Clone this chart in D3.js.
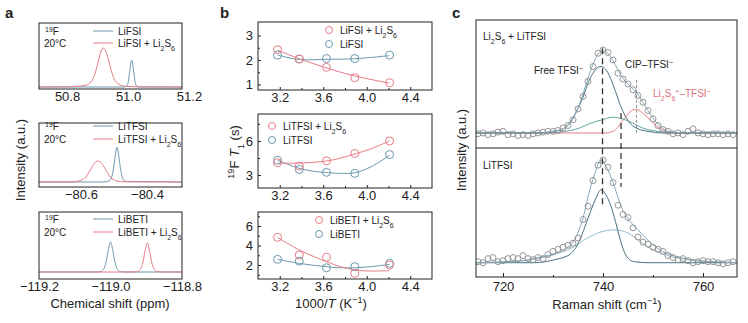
<!DOCTYPE html>
<html>
<head>
<meta charset="utf-8">
<title></title>
<style>
  body { margin: 0; background: #fff; }
  svg text { font-family: "Liberation Sans", Arial, sans-serif; fill: #222; }
  svg .frame { fill: none; stroke: #222; stroke-width: 1; }
  svg .blue { fill: none; stroke: #6a98ad; stroke-width: 1; }
  svg .red { fill: none; stroke: #e77b86; stroke-width: 1; }
  svg .pt-blue { fill: none; stroke: #6a98ad; stroke-width: 1; }
  svg .pt-red { fill: none; stroke: #e77b86; stroke-width: 1; }
  svg .raw { fill: none; stroke: #8c8c8c; stroke-width: 0.9; }
  svg .env { fill: none; stroke: #86a9ba; stroke-width: 1; }
  svg .free { fill: none; stroke: #46707f; stroke-width: 1; }
  svg .cip { fill: none; stroke: #67a59f; stroke-width: 1; }
  svg .broad { fill: none; stroke: #98bccb; stroke-width: 1; }
  svg .axis text { font-size: 13px; }
  svg .axis line { stroke: #222; }
</style>
</head>
<body>
<svg class="drawing"></svg>
<script src="https://cdn.jsdelivr.net/npm/d3@7"></script>
<script>
// ---- panel a : 19F NMR spectra (ppm, normalised intensity)
var fsiTicks = [50.8, 51.0, 51.2];
var fsiPure = [[50.708,0],[50.99,0],[50.998,0.05],[51.004,0.3],[51.008,0.56],[51.012,0.69],[51.016,0.56],[51.02,0.3],[51.026,0.05],[51.035,0],[51.177,0]];
var fsiMix = [[50.708,0],[50.80,0.005],[50.86,0.04],[50.88,0.15],[50.89,0.3],[50.90,0.58],[50.91,0.88],[50.918,1.0],[50.925,0.95],[50.935,0.72],[50.945,0.42],[50.955,0.2],[50.97,0.07],[50.99,0.02],[51.03,0.005],[51.177,0]];

var tfsiTicks = [-80.6, -80.4];
var tfsiPure = [[-80.727,0],[-80.53,0],[-80.515,0.03],[-80.505,0.2],[-80.5,0.48],[-80.495,0.82],[-80.491,1.0],[-80.487,0.85],[-80.482,0.5],[-80.477,0.22],[-80.47,0.05],[-80.46,0.01],[-80.294,0]];
var tfsiMix = [[-80.727,0],[-80.64,0],[-80.62,0.01],[-80.6,0.05],[-80.585,0.14],[-80.575,0.29],[-80.565,0.45],[-80.555,0.58],[-80.549,0.6],[-80.54,0.56],[-80.53,0.43],[-80.52,0.27],[-80.51,0.13],[-80.495,0.04],[-80.48,0.01],[-80.294,0]];

var betiTicks = [-119.2, -119.0, -118.8];
var betiPure = [[-119.2,0],[-119.04,0],[-119.03,0.01],[-119.02,0.08],[-119.012,0.35],[-119.006,0.75],[-119.0,1.0],[-118.994,0.75],[-118.988,0.35],[-118.98,0.08],[-118.97,0.01],[-118.96,0],[-118.8,0]];
var betiMix = [[-119.2,0],[-118.94,0],[-118.927,0.01],[-118.917,0.08],[-118.909,0.34],[-118.903,0.73],[-118.897,0.97],[-118.891,0.73],[-118.885,0.34],[-118.877,0.08],[-118.867,0.01],[-118.857,0],[-118.8,0]];

// ---- panel b : 19F T1 vs 1000/T
var invT = [3.18, 3.38, 3.63, 3.89, 4.21];
var invTTicks = [3.2, 3.6, 4.0, 4.4];
var t1FsiMix = [2.42, 2.04, 1.7, 1.28, 1.07];
var t1Fsi = [2.2, 2.04, 2.06, 2.06, 2.2];
var t1TfsiMix = [4.08, 3.79, 4.25, 4.9, 6.0];
var t1Tfsi = [4.3, 3.5, 3.24, 3.15, 4.8];
var t1BetiMix = [4.84, 3.03, 2.8, 1.15, 2.0];
var t1Beti = [2.58, 2.4, 1.72, 1.83, 2.17];
var fitFsiMix = [[3.18,2.4],[3.38,2.05],[3.6,1.72],[3.8,1.45],[4.0,1.24],[4.21,1.06]];
var fitFsi = [[3.18,2.2],[3.38,2.02],[3.63,2.03],[3.89,2.05],[4.21,2.18]];
var fitTfsiMix = [[3.18,4.05],[3.38,4.05],[3.55,4.15],[3.7,4.35],[3.89,4.85],[4.05,5.35],[4.21,6.0]];
var fitTfsi = [[3.18,4.3],[3.38,3.59],[3.5,3.35],[3.63,3.22],[3.75,3.15],[3.89,3.2],[4.04,3.73],[4.21,4.75]];
var fitBetiMix = [[3.18,4.84],[3.38,3.54],[3.63,2.34],[3.76,1.83],[3.89,1.49],[4.04,1.38],[4.21,1.42]];
var fitBeti = [[3.18,2.58],[3.38,2.17],[3.63,1.83],[3.76,1.72],[3.89,1.72],[4.04,1.83],[4.21,2.07]];

// ---- panel c : Raman spectra
var ramanTicks = [720, 740, 760];
var ramanMinor = [730, 750];
var ramanShift = [715,716,717,718,719,720,721,722,723,724,725,726,727,728,729,730,731,732,733,734,735,736,737,738,739,740,
                  741,742,743,744,745,746,747,748,749,750,751,752,753,754,755,756,757,758,759,760,761,762,763,764,765,766];
var ramanMix = [-0.01,0.00,-0.02,-0.01,0.01,0.02,-0.02,-0.01,-0.03,-0.02,-0.03,-0.01,0.00,0.01,0.02,0.02,0.03,0.06,0.09,0.16,0.29,0.44,0.62,0.80,0.96,1.00,
                0.97,0.88,0.72,0.65,0.59,0.52,0.45,0.37,0.27,0.17,0.09,0.04,0.02,-0.01,0.00,-0.02,0.02,0.05,0.00,-0.01,-0.02,-0.01,-0.01,-0.02,-0.01,-0.02];
var ramanPure = [0.01,0.00,0.04,0.05,0.01,0.02,0.04,0.05,0.04,0.07,0.04,0.03,0.05,0.04,0.08,0.11,0.13,0.15,0.17,0.19,0.24,0.42,0.55,0.80,0.95,1.00,
                 0.93,0.78,0.56,0.47,0.44,0.34,0.25,0.20,0.18,0.15,0.13,0.11,0.07,0.05,0.03,0.04,0.02,0.00,0.01,0.02,0.01,0.01,0.00,-0.01,0.00,0.01];
var mixEnvelope = [[714.6,0],[727,0],[730,0.02],[732,0.05],[733,0.09],[734,0.17],[735,0.30],[736,0.47],[737,0.66],[738,0.83],[739,0.95],[740,0.99],[741,0.96],[742,0.87],[743,0.76],[744,0.66],[745,0.59],[746,0.53],[747,0.46],[748,0.37],[749,0.27],[750,0.18],[751,0.10],[752,0.05],[754,0.01],[757,0],[766.8,0]];
var mixFree = [[714.6,0],[727,0],[730,0.02],[732,0.05],[733,0.1],[734,0.18],[735,0.30],[736,0.43],[737,0.6],[738,0.72],[739,0.79],[739.6,0.80],[740.5,0.77],[741.5,0.66],[742.5,0.5],[743.5,0.33],[744.5,0.2],[745.5,0.11],[747,0.05],[749,0.02],[752,0],[766.8,0]];
var mixCip = [[714.6,0],[728,0],[731,0.01],[733.6,0.03],[735.3,0.06],[737.2,0.11],[739.9,0.16],[741.9,0.19],[743.9,0.17],[745.9,0.12],[747.9,0.06],[749.8,0.03],[752.5,0.01],[756,0],[766.8,0]];
var mixPs = [[714.6,0],[740.5,0],[742,0.02],[743,0.07],[743.7,0.13],[744.7,0.21],[745.7,0.27],[746.5,0.285],[747.5,0.26],[748.7,0.2],[749.7,0.14],[750.7,0.08],[751.7,0.04],[752.7,0.015],[754,0],[766.8,0]];
var pureEnvelope = [[714.6,0],[722,0.01],[727,0.05],[730.3,0.09],[732.6,0.14],[734,0.2],[735.3,0.33],[736.2,0.47],[737,0.64],[738.3,0.86],[739.6,1.0],[741,0.9],[742.3,0.74],[743.6,0.55],[745,0.43],[747,0.32],[749.6,0.19],[751.5,0.12],[753.6,0.075],[757.6,0.03],[762.3,0.01],[766.8,0]];
var pureFree = [[714.6,0],[726,0],[728.5,0.01],[730.3,0.03],[732,0.05],[733.6,0.09],[734.6,0.15],[735.6,0.25],[736.6,0.38],[737.6,0.51],[738.6,0.63],[739.6,0.71],[740.6,0.66],[741.6,0.55],[742.5,0.4],[743.3,0.25],[744.3,0.1],[745.3,0.03],[746.3,0.01],[749,0],[766.8,0]];
var pureBroad = [[714.6,0],[720,0.01],[724,0.02],[727,0.04],[730.3,0.08],[733.6,0.14],[736.9,0.24],[739.6,0.30],[742.3,0.32],[745,0.29],[747.6,0.2],[750.3,0.12],[753.6,0.06],[757,0.03],[760.3,0.01],[766.8,0]];
var peakShifts = [739.9, 743.6, 746.7];

var svg = d3.select('.drawing').attr('width', 748).attr('height', 323);

function rich(sel, parts) {
    parts.forEach(function(p) {
        var t = sel.append('tspan').text(p[0]);
        if (p[1] === 'sub') t.attr('baseline-shift', 'sub').attr('font-size', '0.7em');
        if (p[1] === 'sup') t.attr('baseline-shift', 'super').attr('font-size', '0.7em');
        if (p[1] === 'i') t.attr('font-style', 'italic');
    });
    return sel;
}
function label(x, y, size, parts, fill) {
    return rich(svg.append('text').attr('x', x).attr('y', y).attr('font-size', size).style('fill', fill || '#222'), parts);
}
function vlabel(x, y, size, parts) {
    return rich(svg.append('text').attr('transform', 'translate(' + x + ',' + y + ') rotate(-90)')
        .attr('text-anchor', 'middle').attr('font-size', size), parts);
}
function clip(id, x0, y0, x1, y1) {
    svg.append('clipPath').attr('id', id).append('rect')
        .attr('x', x0).attr('y', y0).attr('width', x1 - x0).attr('height', y1 - y0);
}
function frame(x0, y0, x1, y1) {
    svg.append('rect').attr('class', 'frame').attr('x', x0).attr('y', y0).attr('width', x1 - x0).attr('height', y1 - y0);
}
function styleAxis(g) {
    g.attr('font-family', null).attr('font-size', null).attr('class', 'axis');
    g.select('.domain').remove();
}

// panel letters
label(5, 18, 15, [['a']]).attr('font-weight', 'bold');
label(220, 18, 15, [['b']]).attr('font-weight', 'bold');
label(452, 18, 15, [['c']]).attr('font-weight', 'bold');

// ================= panel a
var aL = 39, aR = 182;
var aPanels = [
    {id: 'a1', top: 23, bottom: 89, xdom: [50.708, 51.177], ydom: [-0.051, 1.641], ticks: fsiTicks, pure: fsiPure, mix: fsiMix, salt: 'LiFSI', rows: [35, 47]},
    {id: 'a2', top: 123, bottom: 187, xdom: [-80.727, -80.294], ydom: [-0.143, 1.686], ticks: tfsiTicks, pure: tfsiPure, mix: tfsiMix, salt: 'LiTFSI', rows: [130, 143]},
    {id: 'a3', top: 212, bottom: 279, xdom: [-119.2, -118.8], ydom: [-0.233, 2.0], ticks: betiTicks, pure: betiPure, mix: betiMix, salt: 'LiBETI', rows: [223, 236]}
];
aPanels.forEach(function(p) {
    var x = d3.scaleLinear().domain(p.xdom).range([aL, aR]);
    var y = d3.scaleLinear().domain(p.ydom).range([p.bottom, p.top]);
    var line = d3.line().x(d => x(d[0])).y(d => y(d[1])).curve(d3.curveMonotoneX);
    clip(p.id, aL, p.top, aR, p.bottom);
    var g = svg.append('g').attr('clip-path', 'url(#' + p.id + ')');
    g.append('path').attr('class', 'blue').attr('d', line(p.pure));
    g.append('path').attr('class', 'red').attr('d', line(p.mix));
    frame(aL, p.top, aR, p.bottom);
    svg.append('g').attr('transform', 'translate(0,' + p.bottom + ')')
        .call(d3.axisBottom(x).tickValues(p.ticks).tickSize(0).tickPadding(3).tickFormat(d3.format('.1f')))
        .call(styleAxis);
    label(45, p.rows[0], 10, [['19', 'sup'], ['F']]);
    label(44, p.rows[1], 10, [['20°C']]);
    svg.append('line').attr('class', 'blue').attr('x1', 93).attr('x2', 113).attr('y1', p.rows[0] - 4).attr('y2', p.rows[0] - 4);
    svg.append('line').attr('class', 'red').attr('x1', 93).attr('x2', 113).attr('y1', p.rows[1] - 4).attr('y2', p.rows[1] - 4);
    label(118, p.rows[0], 10, [[p.salt]]);
    label(118, p.rows[1], 10, [[p.salt + ' + Li'], ['2', 'sub'], ['S'], ['6', 'sub']]);
});
vlabel(25, 160, 13, [['Intensity (a.u.)']]);
label(110, 308, 13, [['Chemical shift (ppm)']]).attr('text-anchor', 'middle');

// ================= panel b
var bL = 258, bR = 432;
var bx = d3.scaleLinear().domain([3.0, 4.6]).range([bL, bR]);
var bPanels = [
    {id: 'b1', top: 22, bottom: 90, ydom: [0.776, 3.551], ticks: [1, 2, 3], minor: [1.5, 2.5], mix: t1FsiMix, pure: t1Fsi, fitMix: fitFsiMix, fitPure: fitFsi, salt: 'LiFSI', lx: 329, ly: [30, 44]},
    {id: 'b2', top: 114, bottom: 188, ydom: [1.86, 8.37], ticks: [3, 6], minor: [4.5, 7.5], mix: t1TfsiMix, pure: t1Tfsi, fitMix: fitTfsiMix, fitPure: fitTfsi, salt: 'LiTFSI', lx: 272, ly: [126, 140]},
    {id: 'b3', top: 212, bottom: 279, ydom: [0.564, 7.44], ticks: [2, 4, 6], minor: [1, 3, 5, 7], mix: t1BetiMix, pure: t1Beti, fitMix: fitBetiMix, fitPure: fitBeti, salt: 'LiBETI', lx: 319, ly: [220, 234]}
];
bPanels.forEach(function(p) {
    var y = d3.scaleLinear().domain(p.ydom).range([p.bottom, p.top]);
    var line = d3.line().x(d => bx(d[0])).y(d => y(d[1])).curve(d3.curveCatmullRom);
    svg.append('path').attr('class', 'blue').attr('d', line(p.fitPure));
    svg.append('path').attr('class', 'red').attr('d', line(p.fitMix));
    svg.append('g').selectAll('circle').data(p.pure).enter().append('circle')
        .attr('class', 'pt-blue').attr('cx', (d, i) => bx(invT[i])).attr('cy', d => y(d)).attr('r', 4);
    svg.append('g').selectAll('circle').data(p.mix).enter().append('circle')
        .attr('class', 'pt-red').attr('cx', (d, i) => bx(invT[i])).attr('cy', d => y(d)).attr('r', 4);
    frame(bL, p.top, bR, p.bottom);
    svg.append('g').attr('transform', 'translate(0,' + p.bottom + ')')
        .call(d3.axisBottom(bx).tickValues(invTTicks).tickSize(-3).tickPadding(3).tickFormat(d3.format('.1f')))
        .call(styleAxis);
    svg.append('g').attr('transform', 'translate(0,' + p.bottom + ')')
        .call(d3.axisBottom(bx).tickValues([3.4, 3.8, 4.2]).tickSize(-2).tickFormat(''))
        .call(styleAxis);
    svg.append('g').attr('transform', 'translate(' + bL + ',0)')
        .call(d3.axisLeft(y).tickValues(p.ticks).tickSize(-3).tickPadding(5).tickFormat(d3.format('d')))
        .call(styleAxis);
    svg.append('g').attr('transform', 'translate(' + bL + ',0)')
        .call(d3.axisLeft(y).tickValues(p.minor).tickSize(-2).tickFormat(''))
        .call(styleAxis);
    svg.append('circle').attr('class', 'pt-red').attr('cx', p.lx).attr('cy', p.ly[0]).attr('r', 3.5);
    svg.append('circle').attr('class', 'pt-blue').attr('cx', p.lx).attr('cy', p.ly[1]).attr('r', 3.5);
    label(p.lx + 11, p.ly[0] + 4, 10, [[p.salt + ' + Li'], ['2', 'sub'], ['S'], ['6', 'sub']]);
    label(p.lx + 11, p.ly[1] + 4, 10, [[p.salt]]);
});
vlabel(239, 152, 13, [['19', 'sup'], ['F '], ['T', 'i'], ['1', 'sub'], [' (s)']]);
label(331, 308, 13, [['1000/'], ['T', 'i'], [' (K'], ['\u22121', 'sup'], [')']]).attr('text-anchor', 'middle');

// ================= panel c
var cL = 476, cR = 737, cTop = 20, cMid = 148, cBot = 277;
var cx = d3.scaleLinear().domain([714.6, 766.8]).range([cL, cR]);
var cyTop = d3.scaleLinear().domain([-0.181, 1.361]).range([cMid, cTop]);
var cyBot = d3.scaleLinear().domain([-0.139, 1.117]).range([cBot, cMid]);
clip('c1', cL, cTop, cR, cMid);
clip('c2', cL, cMid, cR, cBot);

function ramanPlot(id, y, raw, curves) {
    var g = svg.append('g').attr('clip-path', 'url(#' + id + ')');
    var line = d3.line().x(d => cx(d[0])).y(d => y(d[1])).curve(d3.curveMonotoneX);
    curves.forEach(function(c) {
        g.append('path').attr('class', c[0]).attr('d', line(c[1]));
    });
    g.selectAll('circle.raw').data(raw).enter().append('circle')
        .attr('class', 'raw').attr('cx', (d, i) => cx(ramanShift[i])).attr('cy', d => y(d)).attr('r', 3);
}
ramanPlot('c1', cyTop, ramanMix, [['red', mixPs], ['cip', mixCip], ['free', mixFree], ['env', mixEnvelope]]);
ramanPlot('c2', cyBot, ramanPure, [['broad', pureBroad], ['free', pureFree], ['env', pureEnvelope]]);

// guide lines at the band positions
svg.append('line').attr('x1', cx(peakShifts[0])).attr('x2', cx(peakShifts[0]))
    .attr('y1', cyTop(1.02)).attr('y2', cyBot(0.54))
    .attr('stroke', '#333').attr('stroke-width', 1.3).attr('stroke-dasharray', '6,4');
svg.append('line').attr('x1', cx(peakShifts[1])).attr('x2', cx(peakShifts[1]))
    .attr('y1', cyTop(0.24)).attr('y2', cyBot(0.74))
    .attr('stroke', '#333').attr('stroke-width', 1.3).attr('stroke-dasharray', '6,4');
svg.append('line').attr('x1', cx(peakShifts[2])).attr('x2', cx(peakShifts[2]))
    .attr('y1', cyTop(0.64)).attr('y2', cyTop(0))
    .attr('stroke', '#777').attr('stroke-width', 0.8).attr('stroke-dasharray', '3,2');

frame(cL, cTop, cR, cBot);
svg.append('line').attr('x1', cL).attr('x2', cR).attr('y1', cMid).attr('y2', cMid).attr('stroke', '#222');
svg.append('g').attr('transform', 'translate(0,' + cBot + ')')
    .call(d3.axisBottom(cx).tickValues(ramanTicks).tickSize(-4).tickPadding(5))
    .call(styleAxis);
svg.append('g').attr('transform', 'translate(0,' + cBot + ')')
    .call(d3.axisBottom(cx).tickValues(ramanMinor).tickSize(-2).tickFormat(''))
    .call(styleAxis);

label(483, 40, 10, [['Li'], ['2', 'sub'], ['S'], ['6', 'sub'], [' + LiTFSI']]);
label(534, 74, 10, [['Free TFSI'], ['\u2212', 'sup']]);
label(625, 68, 10, [['CIP\u2013TFSI'], ['\u2212', 'sup']]);
label(653, 97, 10, [['Li'], ['2', 'sub'], ['S'], ['6', 'sub'], ['+', 'sup'], ['\u2013TFSI'], ['\u2212', 'sup']], '#e0707c');
label(483, 169, 10, [['LiTFSI']]);
vlabel(466, 150, 13, [['Intensity (a.u.)']]);
label(607, 309, 13, [['Raman shift (cm'], ['\u22121', 'sup'], [')']]).attr('text-anchor', 'middle');
</script>
</body>
</html>
